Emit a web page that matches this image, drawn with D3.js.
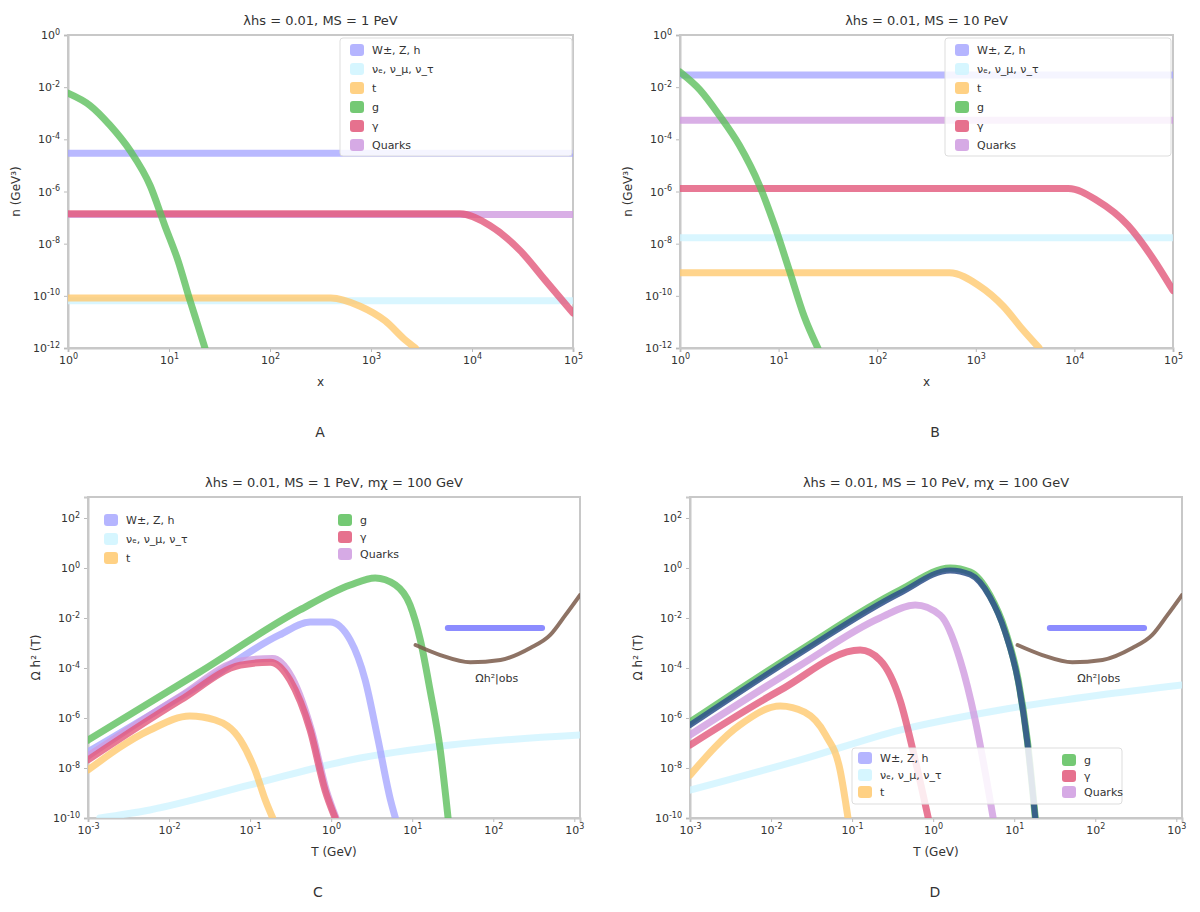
<!DOCTYPE html>
<html><head><meta charset="utf-8">
<script src="https://cdn.jsdelivr.net/npm/d3@7"></script>
<style>body{margin:0;background:#fff}svg{display:block}text{font-family:"DejaVu Sans",sans-serif;fill:#333}</style>
</head><body><svg id="c" width="1200" height="912"></svg>
<script>
// ---------- tick values ----------
const xTicksTop = [1, 10, 100, 1e3, 1e4, 1e5];
const yTicksTop = [1e-12, 1e-10, 1e-8, 1e-6, 1e-4, 1e-2, 1];
const xTicksBot = [1e-3, 1e-2, 1e-1, 1, 10, 100, 1e3];
const yTicksBot = [1e-10, 1e-8, 1e-6, 1e-4, 1e-2, 1, 100];

// ---------- legend labels ----------
const keyNames = ["W±, Z, h", "νₑ, ν_μ, ν_τ", "t", "g", "γ", "Quarks"];
const keyColors = ["#a8a8ff", "#cff4ff", "#ffc96f", "#5cbf5c", "#e2587a", "#cf9be0"];

// ---------- panel titles / captions ----------
const titles = ["λhs = 0.01, MS = 1 PeV", "λhs = 0.01, MS = 10 PeV",
                "λhs = 0.01, MS = 1 PeV, mχ = 100 GeV", "λhs = 0.01, MS = 10 PeV, mχ = 100 GeV"];
const captions = ["A", "B", "C", "D"];

// ---------- Panel A series ----------
const A_blue   = [[1, 2.9e-5], [1e5, 2.9e-5]];
const A_cyan   = [[1, 6.5e-11], [1e5, 6.5e-11]];
const A_orange = [[1, 8.3e-11], [400, 8.3e-11], [780, 4e-11], [1380, 1.1e-11], [2190, 2e-12], [2750, 1e-12]];
const A_green  = [[1, 5.9e-3], [1.65, 2.0e-3], [2.6, 3.5e-4], [4.1, 3.8e-5], [6.5, 1.7e-6], [9.1, 4.9e-8], [12.3, 2.2e-9], [16.2, 6.3e-11], [19.4, 7e-12], [22.7, 1e-12]];
const A_red    = [[1, 1.4e-7], [7600, 1.4e-7], [15000, 5e-8], [30000, 5.4e-9], [53000, 4e-10], [1e5, 2.2e-11]];
const A_purple = [[1, 1.3e-7], [1e5, 1.3e-7]];

// ---------- Panel B series ----------
const B_blue   = [[1, 2.9e-2], [1e5, 2.9e-2]];
const B_cyan   = [[1, 1.7e-8], [1e5, 1.7e-8]];
const B_orange = [[1, 7.6e-10], [540, 7.6e-10], [1070, 2.5e-10], [1900, 4e-11], [3000, 5e-12], [4400, 1e-12]];
const B_green  = [[1, 3.8e-2], [1.6, 7.7e-3], [2.5, 8.4e-4], [4.0, 5.9e-5], [6.4, 1.7e-6], [9.1, 5e-8], [12.9, 9e-10], [18.2, 1.6e-11], [25, 1e-12]];
const B_red    = [[1, 1.3e-6], [8700, 1.3e-6], [17000, 4.5e-7], [35000, 5e-8], [63000, 2.6e-9], [1e5, 1.6e-10]];
const B_purple = [[1, 5.4e-4], [1e5, 5.4e-4]];

// ---------- Panel C series ----------
const C_blue   = [[1e-3, 4.4e-8], [0.024, 2.1e-5], [0.23, 2.1e-3], [0.55, 6.9e-3], [0.97, 6.9e-3], [1.72, 1.3e-3], [2.63, 3.3e-5], [3.8, 1.3e-7], [5.4, 5.2e-10], [6.2, 1e-10]];
const C_cyan   = [[1.4e-3, 1e-10], [5.8e-3, 2.1e-10], [0.1, 2.1e-9], [1.72, 2.1e-8], [29.5, 8.3e-8], [1175, 2.1e-7]];
const C_orange = [[1e-3, 8.3e-9], [5.8e-3, 3.3e-7], [0.018, 1.2e-6], [0.037, 8.3e-7], [0.076, 1.3e-7], [0.115, 8.3e-9], [0.154, 5.2e-10], [0.19, 1e-10]];
const C_green  = [[1e-3, 1.3e-7], [0.024, 6.9e-5], [0.41, 0.021], [1.72, 0.21], [3.5, 0.4], [6.2, 0.21], [9.4, 0.033], [12.6, 1.3e-3], [16.6, 1.3e-5], [22.2, 5.2e-8], [27.7, 1e-10]];
const C_red    = [[1e-3, 2.1e-8], [0.0138, 5.2e-6], [0.076, 1.3e-4], [0.177, 1.7e-4], [0.31, 3.3e-5], [0.55, 3.3e-7], [0.84, 1.3e-9], [1.12, 1e-10]];
const C_purple = [[1e-3, 3.0e-8], [0.0138, 7.5e-6], [0.076, 1.9e-4], [0.19, 2.4e-4], [0.33, 4e-5], [0.57, 3.3e-7], [0.87, 1.3e-9], [1.15, 1e-10]];

// ---------- Panel D series ----------
const D_blue   = [[1e-3, 5.2e-7], [0.023, 4e-4], [0.39, 0.1], [1.62, 0.8], [2.86, 0.55], [5.0, 0.07], [7.7, 2.8e-3], [11.2, 2.8e-5], [14.5, 1.1e-7], [18.2, 1e-10]];
const D_cyan   = [[1e-3, 1.3e-9], [0.023, 2.1e-8], [0.39, 3.3e-7], [6.7, 2.1e-6], [115, 8.3e-6], [1175, 2.1e-5]];
const D_orange = [[1e-3, 5.2e-9], [4.1e-3, 5.2e-7], [0.013, 3.0e-6], [0.026, 1.7e-6], [0.047, 2.1e-7], [0.071, 8.3e-9], [0.089, 1e-10]];
const D_green  = [[1e-3, 6.9e-7], [0.023, 5.2e-4], [0.39, 0.13], [1.62, 1.0], [2.86, 0.69], [5.0, 0.083], [7.7, 3.3e-3], [11.2, 3.3e-5], [14.5, 1.3e-7], [18.2, 1e-10]];
const D_red    = [[1e-3, 8.3e-8], [0.013, 1.3e-5], [0.126, 5.2e-4], [0.22, 2.1e-4], [0.39, 5.2e-6], [0.6, 2.1e-8], [0.87, 1e-10]];
const D_purple = [[1e-3, 2.1e-7], [0.023, 1.3e-4], [0.22, 0.01], [0.6, 0.033], [1.22, 0.013], [2.15, 2.1e-4], [3.3, 8.3e-7], [4.8, 1.3e-9], [5.5, 1e-10]];

// ---------- relic abundance curve and observed value (C, D) ----------
const omegaCurve = [[11, 8.3e-4], [22.2, 3.3e-4], [52, 1.7e-4], [123, 2.1e-4], [286, 6.3e-4], [505, 2.1e-3], [776, 0.013], [1175, 0.083]];
const omegaObs   = [[27.5, 4e-3], [400, 4e-3]];

const svg = d3.select("#c");
let clipN = 0;

function pow10(sel, e) {
  sel.text(null);
  sel.append("tspan").text("10");
  sel.append("tspan").attr("dy", "-0.55em").attr("font-size", "8px").text(e);
}

function panel(cfg) {
  const g = svg.append("g");
  const x = d3.scaleLog().domain(cfg.xd).range([cfg.l, cfg.r]);
  const y = d3.scaleLog().domain(cfg.yd).range([cfg.b, cfg.t]);
  const id = "clip" + (clipN++);
  g.append("clipPath").attr("id", id).append("rect")
    .attr("x", cfg.l).attr("y", cfg.t).attr("width", cfg.r - cfg.l).attr("height", cfg.b - cfg.t);

  // axes
  const ax = g.append("g").attr("transform", `translate(0,${cfg.b})`)
    .call(d3.axisBottom(x).tickValues(cfg.xt).tickSize(4).tickPadding(4));
  ax.selectAll(".tick text").each(function(d) { pow10(d3.select(this), Math.round(Math.log10(d))); });
  const ay = g.append("g").attr("transform", `translate(${cfg.l},0)`)
    .call(d3.axisLeft(y).tickValues(cfg.yt).tickSize(4).tickPadding(4));
  ay.selectAll(".tick text").each(function(d) { pow10(d3.select(this), Math.round(Math.log10(d))); });
  g.selectAll(".domain").attr("stroke", "#c8c8c8").attr("stroke-width", 2);
  g.selectAll(".tick line").attr("stroke", "#bbb");
  g.selectAll(".tick text").attr("font-size", "11px").attr("fill", "#444").attr("font-family", "DejaVu Sans");
  g.append("rect").attr("x", cfg.l).attr("y", cfg.t).attr("width", cfg.r - cfg.l).attr("height", cfg.b - cfg.t)
    .attr("fill", "none").attr("stroke", "#c8c8c8").attr("stroke-width", 2);

  const line = d3.line().x(d => x(d[0])).y(d => y(d[1])).curve(d3.curveMonotoneX);
  const lines = g.append("g").attr("clip-path", `url(#${id})`);
  cfg.series.forEach(s => {
    lines.append("path").datum(s.data).attr("d", line).attr("fill", "none")
      .attr("stroke", s.color).attr("stroke-width", s.w || 7).attr("stroke-opacity", s.op || 0.8)
      .attr("stroke-linecap", "round");
  });

  // title, axis labels, caption
  g.append("text").attr("x", (cfg.l + cfg.r) / 2).attr("y", cfg.t - 10).attr("text-anchor", "middle")
    .attr("font-size", "13px").text(cfg.title);
  g.append("text").attr("x", (cfg.l + cfg.r) / 2).attr("y", cfg.b + 38).attr("text-anchor", "middle")
    .attr("font-size", "12px").text(cfg.xlab);
  g.append("text").attr("transform", `translate(${cfg.l - 48},${(cfg.t + cfg.b) / 2}) rotate(-90)`)
    .attr("text-anchor", "middle").attr("font-size", "12px").text(cfg.ylab);
  g.append("text").attr("x", cfg.capX).attr("y", cfg.capY).attr("text-anchor", "middle")
    .attr("font-size", "14px").text(cfg.caption);

  // legend
  cfg.legend.forEach(col => {
    if (col.box) g.append("rect").attr("x", col.box[0]).attr("y", col.box[1]).attr("width", col.box[2]).attr("height", col.box[3])
      .attr("fill", "#fff").attr("fill-opacity", 0.85).attr("stroke", "#ddd").attr("rx", 3);
    col.items.forEach((k, i) => {
      const yy = col.y + i * col.dy;
      g.append("rect").attr("x", col.x).attr("y", yy - 6).attr("width", 14).attr("height", 12).attr("rx", 3)
        .attr("fill", keyColors[k]).attr("opacity", 0.85);
      g.append("text").attr("x", col.x + 22).attr("y", yy + 4).attr("font-size", "11px").text(keyNames[k]);
    });
  });
  return {g, x, y};
}

function topSeries(b, c, o, gr, r, p) {
  return [
    {data: c, color: keyColors[1]},
    {data: p, color: keyColors[5]},
    {data: b, color: keyColors[0]},
    {data: o, color: keyColors[2]},
    {data: r, color: keyColors[4]},
    {data: gr, color: keyColors[3]}
  ];
}

const topCommon = {xd: [1, 1e5], yd: [1e-12, 1], xt: xTicksTop, yt: yTicksTop, t: 35, b: 348,
  xlab: "x", ylab: "n (GeV³)"};
panel(Object.assign({}, topCommon, {l: 68, r: 573, title: titles[0], caption: captions[0], capX: 320, capY: 437,
  series: topSeries(A_blue, A_cyan, A_orange, A_green, A_red, A_purple),
  legend: [{box: [340, 38, 232, 118], x: 350, y: 50, dy: 19, items: [0, 1, 2, 3, 4, 5]}]}));
panel(Object.assign({}, topCommon, {l: 680, r: 1173, title: titles[1], caption: captions[1], capX: 935, capY: 437,
  series: topSeries(B_blue, B_cyan, B_orange, B_green, B_red, B_purple),
  legend: [{box: [945, 38, 226, 118], x: 955, y: 50, dy: 19, items: [0, 1, 2, 3, 4, 5]}]}));

const botCommon = {xd: [1e-3, Math.pow(10, 3.07)], yd: [1e-10, Math.pow(10, 2.84)], xt: xTicksBot, yt: yTicksBot,
  t: 497, b: 818, xlab: "T (GeV)", ylab: "Ω h² (T)"};
function botSeries(b, c, o, gr, r, p) {
  return [
    {data: c, color: keyColors[1]},
    {data: o, color: keyColors[2]},
    {data: gr, color: keyColors[3]},
    {data: b, color: keyColors[0]},
    {data: p, color: keyColors[5]},
    {data: r, color: keyColors[4]},
    {data: omegaObs, color: "#8080ff", w: 6, op: 0.9},
    {data: omegaCurve, color: "#7a5a4a", w: 4, op: 0.85}
  ];
}
const pc = panel(Object.assign({}, botCommon, {l: 88, r: 580, title: titles[2], caption: captions[2], capX: 318, capY: 897,
  series: botSeries(C_blue, C_cyan, C_orange, C_green, C_red, C_purple),
  legend: [{x: 104, y: 520, dy: 19, items: [0, 1, 2]}, {x: 338, y: 520, dy: 17, items: [3, 4, 5]}]}));
pc.g.append("text").attr("x", pc.x(60)).attr("y", pc.y(1.2e-4) + 16).attr("font-size", "11px").text("Ωh²|obs");

const pd = panel(Object.assign({}, botCommon, {l: 690, r: 1182, title: titles[3], caption: captions[3], capX: 935, capY: 897,
  series: [
    {data: D_cyan, color: keyColors[1]},
    {data: D_orange, color: keyColors[2]},
    {data: D_red, color: keyColors[4]},
    {data: D_purple, color: keyColors[5]},
    {data: D_green, color: keyColors[3]},
    {data: D_blue, color: "#2b4f8a", w: 6, op: 0.85},
    {data: omegaObs, color: "#8080ff", w: 6, op: 0.9},
    {data: omegaCurve, color: "#7a5a4a", w: 4, op: 0.85}
  ],
  legend: [{box: [852, 748, 270, 56], x: 858, y: 758, dy: 17, items: [0, 1, 2]}, {x: 1062, y: 760, dy: 16, items: [3, 4, 5]}]}));
pd.g.append("text").attr("x", pd.x(60)).attr("y", pd.y(1.2e-4) + 16).attr("font-size", "11px").text("Ωh²|obs");
</script></body></html>
